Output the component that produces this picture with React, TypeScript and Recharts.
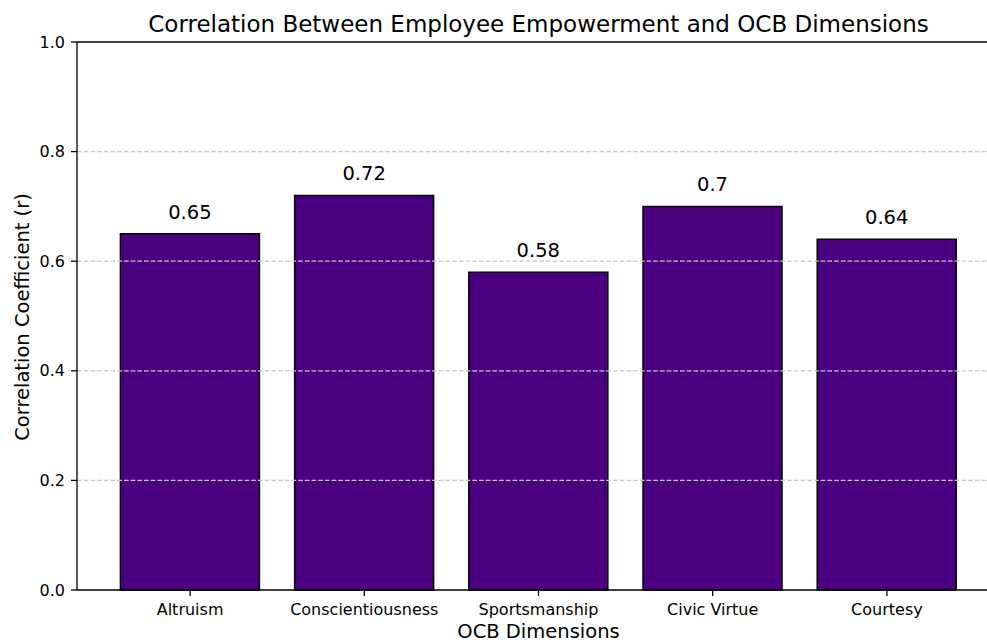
import React from 'react';
import { BarChart, Bar, XAxis, YAxis, ReferenceLine, LabelList } from 'recharts';

const categories = ['Altruism', 'Conscientiousness', 'Sportsmanship', 'Civic Virtue', 'Courtesy'];
const correlations = [0.65, 0.72, 0.58, 0.7, 0.64];
const yTicks = [0, 0.2, 0.4, 0.6, 0.8, 1.0];
const gridValues = [0.2, 0.4, 0.6, 0.8];
const title = 'Correlation Between Employee Empowerment and OCB Dimensions';
const xLabel = 'OCB Dimensions';
const yLabel = 'Correlation Coefficient (r)';

const data = categories.map((name, i) => ({ name, value: correlations[i] }));

const FONT = '"DejaVu Sans", sans-serif';
const TEXT = '#000';

export default function App() {
  return (
    <div
      style={{
        position: 'fixed',
        left: 0,
        top: 0,
        width: 987,
        height: 643,
        overflow: 'hidden',
        background: '#fff',
        fontFamily: FONT,
      }}
    >
      <BarChart
        width={1000}
        height={643}
        data={data}
        margin={{ top: 42, right: 0, left: 0, bottom: 0 }}
        barCategoryGap="10%"
      >
        <XAxis
          dataKey="name"
          height={53}
          padding={{ left: 26, right: 26 }}
          stroke="#000"
          strokeWidth={1.3}
          tickLine={{ stroke: '#000', strokeWidth: 1.3 }}
          tickSize={6}
          tickMargin={8}
          tick={{ fontSize: 16, fill: TEXT, fontFamily: FONT }}
          interval={0}
        />
        <YAxis
          width={77}
          domain={[0, 1]}
          ticks={yTicks}
          tickFormatter={(v: number) => v.toFixed(1)}
          stroke="#000"
          strokeWidth={1.3}
          tickLine={{ stroke: '#000', strokeWidth: 1.3 }}
          tickSize={6}
          tickMargin={6}
          tick={{ fontSize: 16, fill: TEXT, fontFamily: FONT }}
          interval={0}
        />
        <Bar dataKey="value" fill="#4B0082" stroke="#000" strokeWidth={1.5} isAnimationActive={false}>
          <LabelList dataKey="value" position="top" offset={15} style={{ fontSize: 19.5, fill: TEXT, fontFamily: FONT }} />
        </Bar>
        {gridValues.map((v) => (
          <ReferenceLine key={v} y={v} stroke="#c8c8c8" strokeDasharray="4.7 2" strokeWidth={1.3} />
        ))}
        <ReferenceLine y={1} stroke="#000" strokeWidth={1.3} />
      </BarChart>
      <svg
        width={987}
        height={643}
        style={{ position: 'absolute', left: 0, top: 0, pointerEvents: 'none' }}
      >
        <text x={538.5} y={32} textAnchor="middle" fontSize={23} fill={TEXT} fontFamily={FONT}>
          {title}
        </text>
        <text x={538.5} y={638} textAnchor="middle" fontSize={19.5} fill={TEXT} fontFamily={FONT}>
          {xLabel}
        </text>
        <text
          x={29}
          y={317}
          textAnchor="middle"
          fontSize={19.5}
          fill={TEXT}
          fontFamily={FONT}
          transform="rotate(-90 29 317)"
        >
          {yLabel}
        </text>
      </svg>
    </div>
  );
}
